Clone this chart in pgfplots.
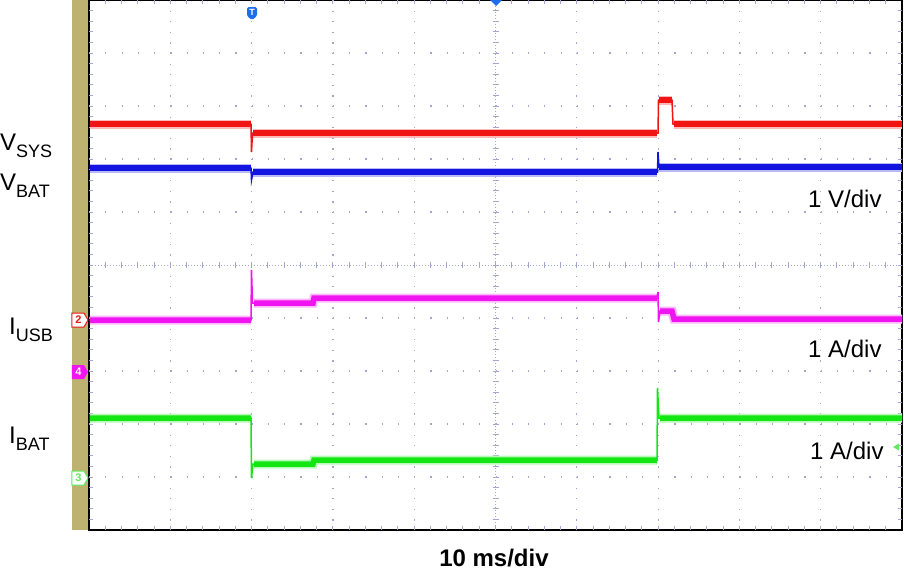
\documentclass[border=0pt]{standalone}
\usepackage{pgfplots}
\pgfplotsset{compat=1.18}
\usepackage{fontspec}
\setmainfont{Liberation Sans}
\definecolor{strip}{RGB}{189,178,112}
\definecolor{gridc}{RGB}{165,165,210}
\definecolor{cred}{RGB}{240,20,20}
\definecolor{cblue}{RGB}{20,20,225}
\definecolor{cmag}{RGB}{240,20,240}
\definecolor{cgreen}{RGB}{20,230,20}
\definecolor{tblue}{RGB}{30,110,235}
\newcommand{\lab}[2]{#1\raisebox{-7pt}{\fontsize{18}{20}\selectfont #2}}
\begin{document}
\begin{tikzpicture}
\useasboundingbox (-89pt,-41pt) rectangle (815pt,530pt);
\begin{axis}[at={(0pt,0pt)}, anchor=south west, scale only axis,
  width=813pt, height=530pt, xmin=89, xmax=902, ymin=0, ymax=530,
  y dir=reverse, clip=false, axis line style={line width=2pt},
  xtick=\empty, ytick=\empty, unbounded coords=jump]
% left strip
\fill[strip] (axis cs:72,0) rectangle (axis cs:88,530);
% grid
\pgfplotsinvokeforeach{1,2,3,4,6,7,8,9}{
  \draw[gridc, line width=1.2pt, dash pattern=on 1.2pt off 9.4pt] (axis cs:{89+#1*81.3},0) -- (axis cs:{89+#1*81.3},530);
  \draw[gridc, line width=1.2pt, dash pattern=on 1.2pt off 15.06pt] (axis cs:89,{#1*53}) -- (axis cs:902,{#1*53});
}
\draw[gridc, line width=1pt, dash pattern=on 1pt off 2pt] (axis cs:89,265) -- (axis cs:902,265);
\draw[gridc, line width=1pt, dash pattern=on 1pt off 2pt] (axis cs:495.5,0) -- (axis cs:495.5,530);
\pgfplotsinvokeforeach{1,...,49}{
  \draw[gridc, line width=1pt] (axis cs:{89+#1*16.26},262) -- (axis cs:{89+#1*16.26},268);
  \draw[gridc, line width=1pt] (axis cs:492.5,{#1*10.6}) -- (axis cs:498.5,{#1*10.6});
  \draw[gridc, line width=1pt] (axis cs:{89+#1*16.26},526) -- (axis cs:{89+#1*16.26},530);
  \draw[gridc, line width=1pt] (axis cs:{89+#1*16.26},0) -- (axis cs:{89+#1*16.26},4);
  \draw[gridc, line width=1pt] (axis cs:898,{#1*10.6}) -- (axis cs:902,{#1*10.6});
  \draw[gridc, line width=1pt] (axis cs:89,{#1*10.6}) -- (axis cs:93,{#1*10.6});
}
% V_SYS (red)
\addplot[cred!30, line width=9pt] coordinates {(90,124)(251,124)(251,nan)(253,133)(657,133)(657,nan)(659,100)(672,100)(672,nan)(674,124)(902,124)};
\addplot[cred, line width=5.5pt] coordinates {(90,124)(251,124)(251,nan)(253,133)(657,133)(657,nan)(659,100)(672,100)(672,nan)(674,124)(902,124)};
\addplot[cred, line width=1.5pt] coordinates {(90,124)(251,124)(251.5,152)(252.5,133)(658,133)(658.5,100)(672,100)(673,124)(902,124)};
% V_BAT (blue)
\addplot[cblue!30, line width=9pt] coordinates {(90,168)(251,168)(251,nan)(253,172)(657,172)(657,nan)(659,167)(902,167)};
\addplot[cblue, line width=5.5pt] coordinates {(90,168)(251,168)(251,nan)(253,172)(657,172)(657,nan)(659,167)(902,167)};
\addplot[cblue, line width=1.5pt] coordinates {(90,168)(251,168)(251.5,180)(253,172)(657.5,172)(658,152)(659,167)(902,167)};
% I_USB (magenta)
\addplot[cmag!30, line width=9pt] coordinates {(90,320)(251,320)(251,nan)(254,303)(313,303)(314,298)(657,298)(657,nan)(660,311)(672,311)(674,319)(902,319)};
\addplot[cmag, line width=5.5pt] coordinates {(90,320)(251,320)(251,nan)(254,303)(313,303)(314,298)(657,298)(657,nan)(660,311)(672,311)(674,319)(902,319)};
\addplot[cmag, line width=1.5pt] coordinates {(90,320)(251,320)(251.5,270)(252.5,303)(313,303)(314,298)(657,298)(658,292)(658.5,322)(660,311)(672,311)(673,319)(902,319)};
% I_BAT (green)
\addplot[cgreen!30, line width=9pt] coordinates {(90,418)(251,418)(251,nan)(254,464)(313,464)(314,460)(657,460)(657,nan)(660,418)(902,418)};
\addplot[cgreen, line width=5.5pt] coordinates {(90,418)(251,418)(251,nan)(254,464)(313,464)(314,460)(657,460)(657,nan)(660,418)(902,418)};
\addplot[cgreen, line width=1.5pt] coordinates {(90,418)(251,418)(251.5,478)(253,464)(313,464)(314,460)(657,460)(657.5,388)(659,418)(902,418)};
% channel markers
\filldraw[fill=white, draw=cred, line width=1pt] (axis cs:72,313) -- (axis cs:84,313) -- (axis cs:88,320) -- (axis cs:84,327) -- (axis cs:72,327) -- cycle;
\node[cred, inner sep=0, font=\fontsize{11}{11}\selectfont\bfseries] at (axis cs:78.5,320) {2};
\fill[cmag] (axis cs:72,365) -- (axis cs:84,365) -- (axis cs:88,372) -- (axis cs:84,379) -- (axis cs:72,379) -- cycle;
\node[white, inner sep=0, font=\fontsize{11}{11}\selectfont\bfseries] at (axis cs:78.5,372) {4};
\filldraw[fill=white, draw=cgreen!70, line width=1pt] (axis cs:72,471) -- (axis cs:84,471) -- (axis cs:88,478) -- (axis cs:84,485) -- (axis cs:72,485) -- cycle;
\node[cgreen!70, inner sep=0, font=\fontsize{11}{11}\selectfont\bfseries] at (axis cs:78.5,478) {3};
% trigger markers
\fill[tblue, rounded corners=1.5pt] (axis cs:247,7) -- (axis cs:257,7) -- (axis cs:257,16) -- (axis cs:252,20) -- (axis cs:247,16) -- cycle;
\node[white, inner sep=0, font=\fontsize{9}{9}\selectfont\bfseries] at (axis cs:252,12.5) {T};
\fill[tblue] (axis cs:490,0) -- (axis cs:502,0) -- (axis cs:496,6) -- cycle;
\fill[cgreen!70] (axis cs:893,447) -- (axis cs:899,443.5) -- (axis cs:899,450.5) -- cycle;
% labels
\node[anchor=base west, inner sep=0, font=\fontsize{24}{28}\selectfont] at (axis cs:0,150) {\lab{V}{SYS}};
\node[anchor=base west, inner sep=0, font=\fontsize{24}{28}\selectfont] at (axis cs:0,190) {\lab{V}{BAT}};
\node[anchor=base west, inner sep=0, font=\fontsize{24}{28}\selectfont] at (axis cs:9,334) {\lab{I}{USB}};
\node[anchor=base west, inner sep=0, font=\fontsize{24}{28}\selectfont] at (axis cs:9,443) {\lab{I}{BAT}};
\node[anchor=base west, inner sep=0, font=\fontsize{24}{28}\selectfont] at (axis cs:808,207) {1 V/div};
\node[anchor=base west, inner sep=0, font=\fontsize{24}{28}\selectfont] at (axis cs:808,357) {1 A/div};
\node[anchor=base west, inner sep=0, font=\fontsize{24}{28}\selectfont] at (axis cs:810,459) {1 A/div};
\node[anchor=base, inner sep=0, font=\fontsize{24}{28}\selectfont\bfseries] at (axis cs:494,566) {10 ms/div};
\end{axis}
\end{tikzpicture}
\end{document}
